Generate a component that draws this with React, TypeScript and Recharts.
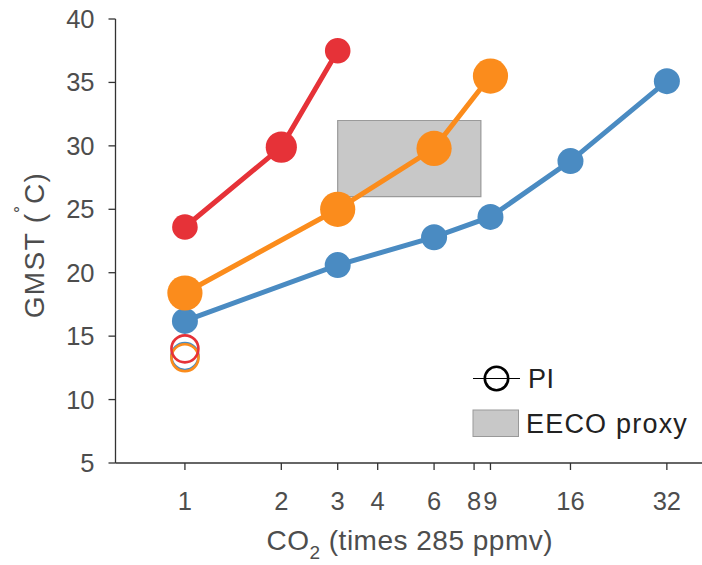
import React from 'react';
import {
  ComposedChart,
  Scatter,
  XAxis,
  YAxis,
  ReferenceArea,
  Legend,
  Label,
} from 'recharts';

// ---- data ----
const blueCO2 = [1, 3, 6, 9, 16, 32];
const blueGMST = [16.2, 20.6, 22.8, 24.4, 28.8, 35.1];

const orangeCO2 = [1, 3, 6, 9];
const orangeGMST = [18.4, 25.0, 29.8, 35.5];

const redCO2 = [1, 2, 3];
const redGMST = [23.6, 29.9, 37.5];

const piCO2 = [1];
const piBlue = [13.4];
const piOrange = [13.3];
const piRed = [14.0];

const eecoCO2 = [3, 8.4];
const eecoGMST = [26, 32];

const xTicks = [1, 2, 3, 4, 6, 8, 9, 16, 32];
const yTicks = [5, 10, 15, 20, 25, 30, 35, 40];
const xDomain = [0.607, 41.2];
const yDomain = [5, 40];

// ---- styles ----
const BLUE = '#4a8bc2';
const ORANGE = '#fb8c1c';
const RED = '#e63238';
const FONT = '"Liberation Sans", Arial, Helvetica, sans-serif';
const TEXT = '#4d4d4d';
const AXIS = '#333333';

const blueRadius = [13, 13, 13, 13, 13, 13];
const orangeRadius = [17.6, 17.6, 17.6, 17.6];
const redRadius = [12.8, 15.6, 12.8];

const build = (xs: number[], ys: number[], rs?: number[]) =>
  xs.map((x, i) => ({ x, y: ys[i], r: rs ? rs[i] : 13.5 }));

const blueData = build(blueCO2, blueGMST, blueRadius);
const orangeData = build(orangeCO2, orangeGMST, orangeRadius);
const redData = build(redCO2, redGMST, redRadius);
const piBlueData = build(piCO2, piBlue);
const piOrangeData = build(piCO2, piOrange);
const piRedData = build(piCO2, piRed);

const filledDot = (color: string) => (p: any) =>
  <circle cx={p.cx} cy={p.cy} r={p.payload.r} fill={color} />;

const openDot = (color: string) => (p: any) =>
  <circle cx={p.cx} cy={p.cy} r={p.payload.r} fill="none" stroke={color} strokeWidth={2.6} />;

const YLabel = (props: any) => {
  const vb = props.viewBox || { x: 0, y: 19, width: 115, height: 444 };
  const x = vb.x + 44;
  const y = vb.y + vb.height / 2 + 4;
  return (
    <text
      x={x}
      y={y}
      transform={`rotate(-90 ${x} ${y})`}
      textAnchor="middle"
      fontFamily={FONT}
      fontSize={28}
      fill={TEXT}
      letterSpacing={1.4}
    >
      {'GMST ('}
      <tspan fontSize={21} dy={-13}>˚</tspan>
      <tspan dy={13}>C)</tspan>
    </text>
  );
};

const XLabel = (props: any) => {
  const vb = props.viewBox || { x: 115, y: 463, width: 587, height: 102 };
  const x = vb.x + vb.width / 2 + 1;
  const y = vb.y + 87;
  return (
    <text x={x} y={y} textAnchor="middle" fontFamily={FONT} fontSize={28} fill={TEXT} letterSpacing={0.5}>
      CO
      <tspan fontSize={19} dy={9}>2</tspan>
      <tspan dy={-9}>{'  (times 285 ppmv)'}</tspan>
    </text>
  );
};

const LegendContent = () => (
  <svg width={232} height={90} style={{ display: 'block' }}>
    <line x1={3} y1={18.5} x2={50} y2={18.5} stroke="#000" strokeWidth={1.2} />
    <circle cx={26.5} cy={18.5} r={11.7} fill="none" stroke="#000" strokeWidth={2.6} />
    <text x={58} y={28} fontFamily={FONT} fontSize={27} fill="#222" letterSpacing={0.6}>PI</text>
    <rect x={3} y={50} width={45.5} height={26.5} fill="#c8c8c8" stroke="#999" strokeWidth={1} />
    <text x={56} y={73} fontFamily={FONT} fontSize={27} fill="#222" letterSpacing={1.2}>EECO proxy</text>
  </svg>
);

const tickStyle = { fontSize: 25.5, fill: TEXT, fontFamily: FONT };

export default function App() {
  return (
    <div style={{ position: 'absolute', left: 0, top: 0, width: 702, height: 565, background: '#fff' }}>
      <ComposedChart width={702} height={565} margin={{ top: 19, right: 0, bottom: 0, left: 0 }}>
        <XAxis
          xAxisId={0}
          dataKey="x"
          type="number"
          scale="log"
          domain={xDomain}
          allowDataOverflow
          ticks={xTicks}
          interval={0}
          height={102}
          tickSize={7}
          tickMargin={22}
          axisLine={{ stroke: AXIS, strokeWidth: 1.3 }}
          tickLine={{ stroke: AXIS, strokeWidth: 1.3 }}
          tick={tickStyle}
        >
          <Label content={XLabel} />
        </XAxis>
        <XAxis
          xAxisId="top"
          orientation="top"
          type="number"
          scale="log"
          domain={xDomain}
          allowDataOverflow
          ticks={xTicks}
          interval={0}
          height={0}
          tickSize={7}
          axisLine={{ stroke: AXIS, strokeWidth: 1.3 }}
          tickLine={{ stroke: AXIS, strokeWidth: 1.3 }}
          tick={false}
        />
        <YAxis
          dataKey="y"
          type="number"
          domain={yDomain}
          allowDataOverflow
          ticks={yTicks}
          interval={0}
          width={115.5}
          tickSize={7}
          tickMargin={14}
          axisLine={{ stroke: AXIS, strokeWidth: 1.3 }}
          tickLine={{ stroke: AXIS, strokeWidth: 1.3 }}
          tick={tickStyle}
        >
          <Label content={YLabel} />
        </YAxis>
        <ReferenceArea
          x1={eecoCO2[0]}
          x2={eecoCO2[1]}
          y1={eecoGMST[0]}
          y2={eecoGMST[1]}
          fill="#c8c8c8"
          fillOpacity={1}
          stroke="#9a9a9a"
          strokeWidth={1.2}
        />
        <Scatter
          name="blue"
          data={blueData}
          line={{ stroke: BLUE, strokeWidth: 5 }}
          lineType="joint"
          shape={filledDot(BLUE)}
          isAnimationActive={false}
        />
        <Scatter
          name="orange"
          data={orangeData}
          line={{ stroke: ORANGE, strokeWidth: 5 }}
          lineType="joint"
          shape={filledDot(ORANGE)}
          isAnimationActive={false}
        />
        <Scatter
          name="red"
          data={redData}
          line={{ stroke: RED, strokeWidth: 5 }}
          lineType="joint"
          shape={filledDot(RED)}
          isAnimationActive={false}
        />
        <Scatter name="PI blue" data={piBlueData} shape={openDot(BLUE)} isAnimationActive={false} />
        <Scatter name="PI orange" data={piOrangeData} shape={openDot(ORANGE)} isAnimationActive={false} />
        <Scatter name="PI red" data={piRedData} shape={openDot(RED)} isAnimationActive={false} />
        <Legend
          layout="vertical"
          align="center"
          verticalAlign="middle"
          wrapperStyle={{ position: 'absolute', left: 470, top: 360, width: 232, height: 90 }}
          content={LegendContent}
        />
      </ComposedChart>
    </div>
  );
}
